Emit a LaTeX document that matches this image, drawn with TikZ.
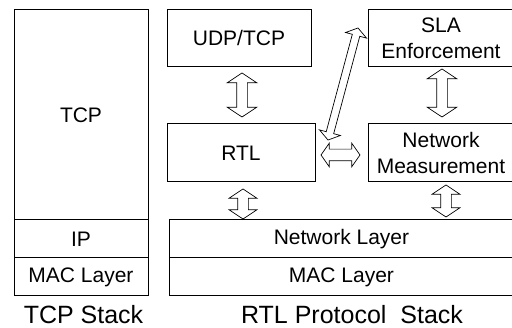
\documentclass[tikz,border=0pt]{standalone}
\usepackage{fontspec}
\setmainfont{Liberation Sans}
\usetikzlibrary{shapes.arrows, calc, positioning}

\begin{document}
\begin{tikzpicture}[x=1pt, y=1pt,
      box/.style={rectangle, draw, line width=1pt, inner sep=0pt, outer sep=0pt,
                  align=center, font=\fontsize{21}{26}\selectfont},
      stacklabel/.style={anchor=base, inner sep=0pt, font=\fontsize{25}{30}\selectfont},
      hollow/.style={double arrow, draw, line width=0.7pt, inner xsep=0pt,
                     inner ysep=5pt, double arrow head extend=9.5pt,
                     double arrow tip angle=113},
      thin hollow/.style={hollow, inner ysep=5.5pt,
                          double arrow head extend=6pt, double arrow tip angle=110}
    ]
      \useasboundingbox (0,0) rectangle (512,328);

      % TCP stack
      \node[box, minimum width=134pt, minimum height=210pt]
        (tcp) at (81,213) {TCP};
      \node[box, minimum width=134pt, minimum height=38pt, below=0pt of tcp]
        (ip) {IP};
      \node[box, minimum width=134pt, minimum height=38pt, below=0pt of ip]
        (mac_tcp) {MAC Layer};
      \node[stacklabel] (tcp_label) at (83.5,4) {TCP Stack};

      % RTL protocol stack
      \node[box, minimum width=144pt, minimum height=57pt]
        (udp) at (239,289.5) {UDP/TCP};
      \node[box, minimum width=148pt, minimum height=58pt]
        (rtl) at (241,175) {RTL};
      \node[box, minimum width=146pt, minimum height=57pt]
        (sla) at (441,289.5) {SLA\\Enforcement};
      \node[box, minimum width=146pt, minimum height=58pt]
        (meas) at (441,175) {Network\\Measurement};
      \node[box, minimum width=345pt, minimum height=38pt]
        (net) at (341.5,89) {Network Layer};
      \node[box, minimum width=345pt, minimum height=38pt, below=0pt of net]
        (mac_rtl) {MAC Layer};
      \node[stacklabel] (rtl_label) at (352,4) {RTL Protocol\ \ Stack};

      % hollow arrows
      \node[hollow, minimum height=44pt, rotate=90]
        (udp_rtl) at (242,233) {};
      \node[hollow, minimum height=48pt, rotate=90]
        (sla_meas) at (442,235) {};
      \node[hollow, minimum height=30pt, rotate=90, double arrow head extend=8.5pt]
        (rtl_net) at (243,124) {};
      \node[hollow, minimum height=32pt, rotate=90, double arrow head extend=8.5pt]
        (meas_net) at (446,127) {};
      \node[thin hollow, minimum height=39pt]
        (rtl_meas) at (340.5,173) {};
      \node[thin hollow, minimum height=116pt, inner ysep=3.5pt,
            double arrow head extend=7pt, rotate=75]
        (rtl_sla) at (343,244) {};
    \end{tikzpicture}
\end{document}
